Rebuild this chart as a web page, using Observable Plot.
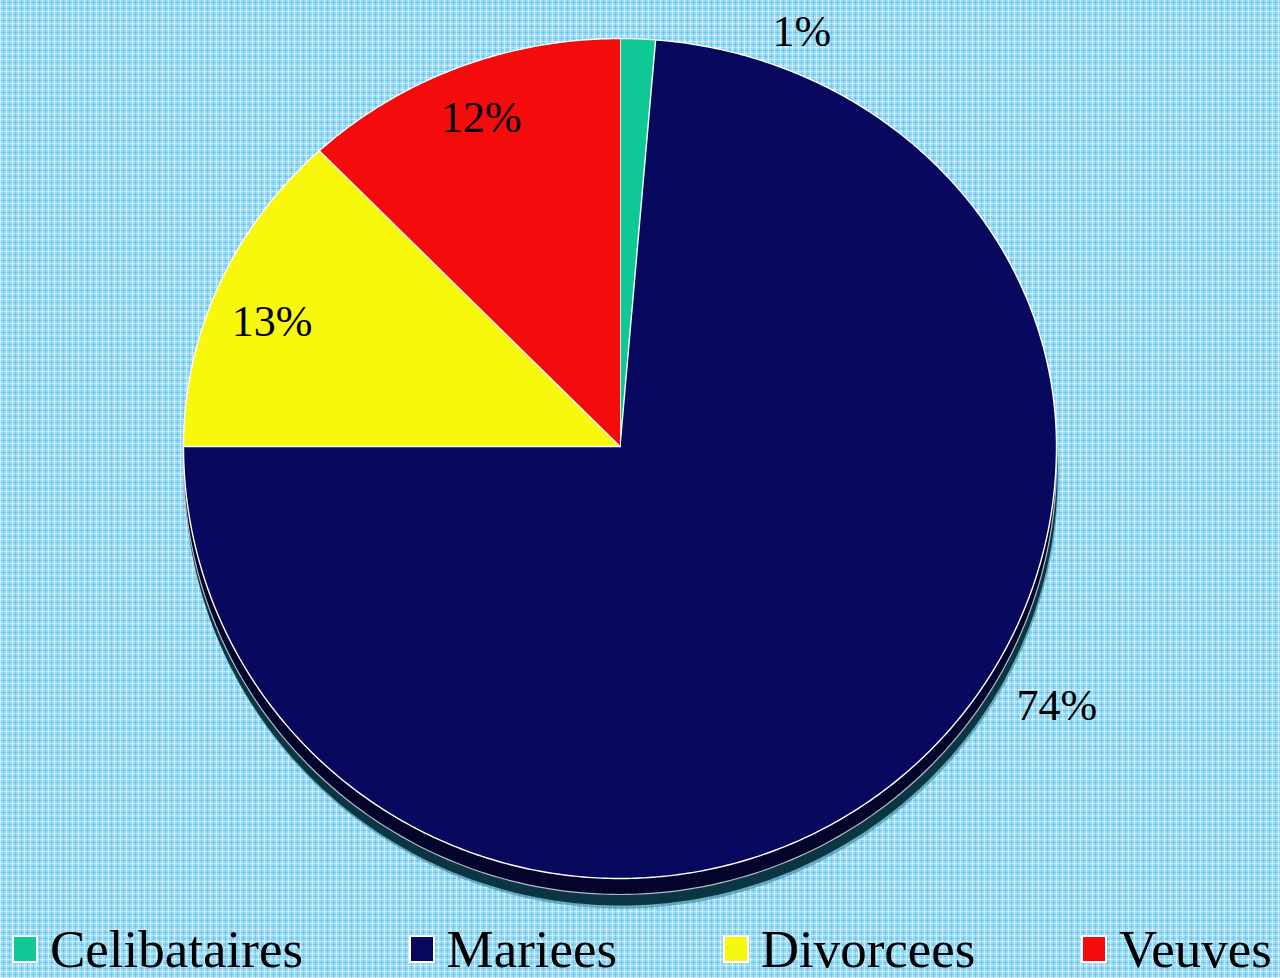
<!DOCTYPE html>
<html><head><meta charset="utf-8">
<script src="https://cdn.jsdelivr.net/npm/d3@7"></script>
<script src="https://cdn.jsdelivr.net/npm/@observablehq/plot@0.6"></script>
<style>
html,body{margin:0;padding:0;}
body{width:1280px;height:978px;overflow:hidden;background-color:#9bdaf4;
background-image:
 repeating-linear-gradient(90deg, rgba(255,255,255,0.55) 0 1px, transparent 1px 3px, rgba(40,180,235,0.35) 3px 4px, transparent 4px 6px),
 repeating-linear-gradient(0deg, rgba(255,255,255,0.55) 0 1px, transparent 1px 3px, rgba(40,180,235,0.35) 3px 4px, transparent 4px 6px);
font-family:"Liberation Serif","Times New Roman",serif;}
#chart svg{display:block;background:transparent;}
#legend{display:flex;justify-content:space-between;height:58px;padding:0 8px 0 12px;align-items:center;box-sizing:border-box;width:1280px;}
.item{display:flex;align-items:center;font-size:53px;line-height:58px;color:#000;}
.sw{width:22px;height:24px;border:2px solid #fff;margin-right:12px;}
</style></head>
<body>
<div id="chart"></div>
<div id="legend"></div>
<script>
const categories = ["Celibataires", "Mariees", "Divorcees", "Veuves"];
const values = [1.3, 73.7, 12.9, 12.1];
const labels = ["1%", "74%", "13%", "12%"];
const colors = ["#0fc896", "#08085f", "#f8f80c", "#f40c0c"];

// perspective: the upper half of the pie face is a little flatter than the lower half
const TOP = 408 / 432;
const warp = (v) => v >= 0 ? v * TOP : v;

const arcs = d3.pie().sort(null).value(d => d)(values);
const slicePts = [];
arcs.forEach((a, i) => {
  slicePts.push({cat: categories[i], u: 0, v: 0});
  const n = Math.max(2, Math.ceil((a.endAngle - a.startAngle) / 0.01));
  for (let k = 0; k <= n; k++) {
    const t = a.startAngle + (a.endAngle - a.startAngle) * k / n;
    slicePts.push({cat: categories[i], u: Math.sin(t), v: warp(Math.cos(t))});
  }
});
const rim = d3.range(0, 361).map(d => ({u: Math.sin(d * Math.PI / 180), v: warp(Math.cos(d * Math.PI / 180))}));
const labData = arcs.map((a, i) => {
  const m = (a.startAngle + a.endAngle) / 2;
  const r = i === 0 || i === 1 ? 1.0 : 0.85;
  return {cat: categories[i], text: labels[i], u: r * Math.sin(m), v: warp(r * Math.cos(m))};
});
const font = "Liberation Serif, Times New Roman, serif";
const lab = (i, dx, dy) => Plot.text([labData[i]], {x: "u", y: "v", text: "text", fontSize: 44, fontFamily: font, fill: "black", dx, dy});

const plot = Plot.plot({
  width: 1280, height: 920,
  marginTop: 0, marginRight: 0, marginBottom: 0, marginLeft: 0,
  style: {background: "transparent", overflow: "visible"},
  x: {type: "linear", domain: [-1, 1], range: [183, 1056], axis: null},
  y: {type: "linear", domain: [-1, TOP], range: [878, 38], axis: null},
  color: {domain: categories, range: colors},
  marks: [
    Plot.line(rim, {x: "u", y: "v", dy: 30, dx: 2, fill: "#3d8898", fillOpacity: 0.6, stroke: "none"}),
    Plot.line(rim, {x: "u", y: "v", dy: 27, dx: 1, fill: "#0a3643", stroke: "none"}),
    Plot.line(rim, {x: "u", y: "v", dy: 16, fill: "#03032b", stroke: "#b8b8c8", strokeWidth: 1.2}),
    Plot.line(slicePts, {x: "u", y: "v", z: "cat", fill: "cat", stroke: "white", strokeWidth: 1.4, strokeLinejoin: "round"}),
    lab(0, 164, -7),
    lab(1, 141, -58),
    lab(2, -7, 12),
    lab(3, -1, -7)
  ]
});
document.getElementById("chart").appendChild(plot);

const leg = document.getElementById("legend");
categories.forEach((c, i) => {
  const it = document.createElement("div");
  it.className = "item";
  const sw = document.createElement("span");
  sw.className = "sw";
  sw.style.background = colors[i];
  it.appendChild(sw);
  it.appendChild(document.createTextNode(c));
  leg.appendChild(it);
});
</script>
</body></html>
